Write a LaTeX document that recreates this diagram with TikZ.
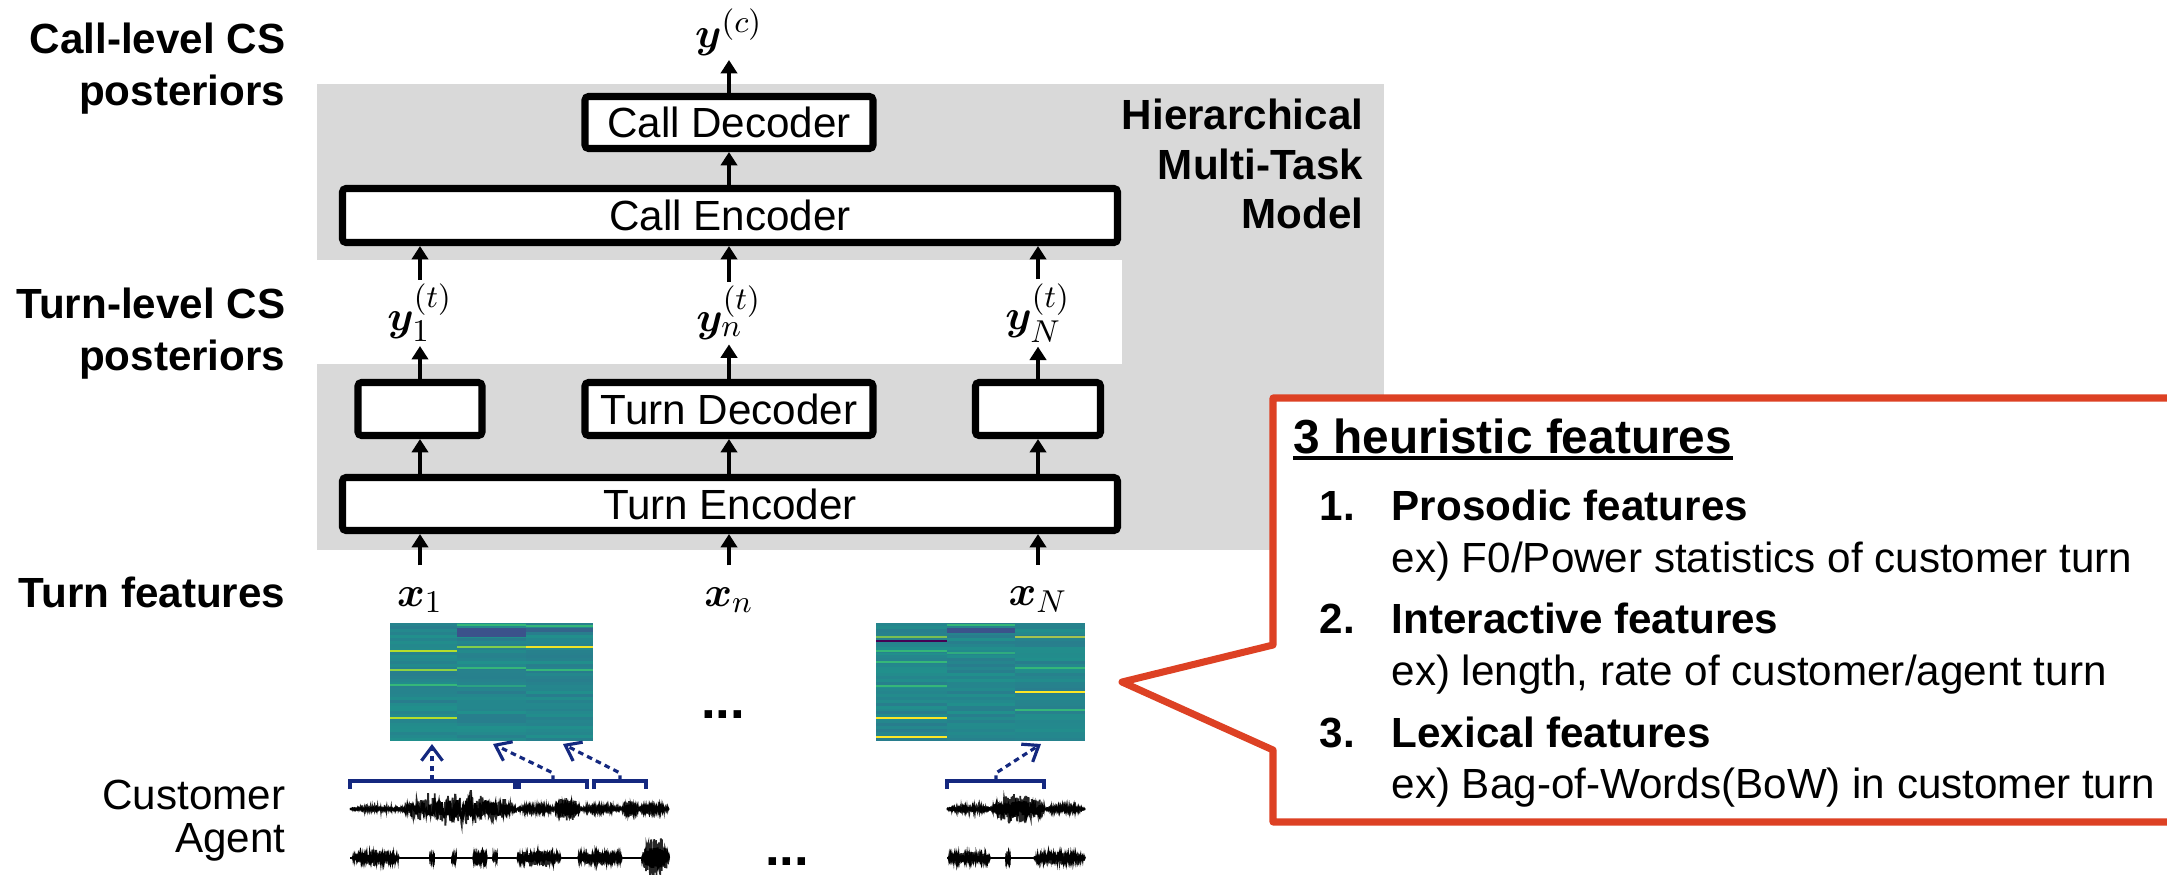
\documentclass[tikz,border=0pt]{standalone}
\usepackage{fontspec}
\setmainfont{Liberation Sans}
\usepackage{bm}
\usetikzlibrary{positioning,arrows.meta}
\definecolor{banda}{HTML}{D9D9D9}
\definecolor{rojo}{HTML}{DD4124}
\definecolor{marino}{HTML}{14287F}
\definecolor{vteal}{HTML}{21908C}
\definecolor{vblue}{HTML}{2E6E8E}
\definecolor{vdeep}{HTML}{3B528B}
\definecolor{vgreen}{HTML}{35B779}
\definecolor{vlime}{HTML}{B5DE2B}
\definecolor{vyel}{HTML}{FDE725}
\definecolor{vpurp}{HTML}{440154}

% one column of a feature map: x0, x1, seed
\newcommand{\columna}[3]{%
  \pgfmathsetseed{#3}
  \foreach \r in {0,...,39}{
    \pgfmathtruncatemacro\mz{rnd*60}
    \fill[vblue!\mz!vteal] (#1,{-6.23-\r*0.0295}) rectangle (#2,{-6.23-(\r+1)*0.0295});
  }}
% bright rows on top: x0, x1, list of depth/colour
\newcommand{\franjas}[3]{%
  \foreach \yy/\cc in {#3} \fill[\cc] (#1,{-\yy+0.012}) rectangle (#2,{-\yy-0.012});}
% speech burst: y0, start, end, amplitude
\newcommand{\onda}[4]{%
  \draw[line width=0.5pt,black!85] plot[domain=#2:#3,samples=260] (\x,{#1+#4*rand*(0.35+0.65*rnd)*sqrt(abs(sin(180*(\x-#2)/(#3-#2))))});
  \draw[line width=0.6pt] plot[domain=#2:#3,samples=200] (\x,{#1+0.45*#4*rand*sqrt(abs(sin(180*(\x-#2)/(#3-#2))))});}

\begin{document}
\begin{tikzpicture}[
    bloque/.style={draw,line width=2pt,fill=white,rounded corners=1pt,minimum height=0.53cm,inner sep=0pt,font=\fontsize{12}{14}\selectfont},
    flecha/.style={-{Triangle[length=3.8pt,width=4.6pt]},line width=1pt},
    etiq/.style={font=\fontsize{12}{14.8}\selectfont\bfseries,align=right,anchor=east,inner sep=0pt},
    simbolo/.style={font=\fontsize{13}{15}\selectfont,inner sep=1pt},
    rayas/.style={dash pattern=on 1.6pt off 1.2pt,line width=0.9pt,marino,-{Straight Barb[length=4pt,width=6pt]}},
    llave/.style={marino,line width=0.9pt},
    lista/.style={anchor=base west,inner sep=0pt,font=\fontsize{12}{14}\selectfont}]
  \useasboundingbox (0,0) rectangle (21.67,-8.74);

  % grey model area
  \fill[banda] (3.17,-0.84) rectangle (13.84,-2.60);
  \fill[banda] (11.22,-2.60) rectangle (13.84,-3.64);
  \fill[banda] (3.17,-3.64) rectangle (13.84,-5.50);

  % callout
  \draw[rojo,fill=white,line width=2pt,line join=round] (22.2,-3.98) -- (12.73,-3.98) -- (12.73,-6.45) -- (11.22,-6.82)
    -- (12.73,-7.50) -- (12.73,-8.22) -- (22.2,-8.22) -- cycle;

  % left labels
  \node[etiq] (lcall) at (2.86,-0.69) {Call-level CS\\posteriors};
  \node[etiq] (lturn) at (2.86,-3.34) {Turn-level CS\\posteriors};
  \node[etiq] (lfeat) at (2.86,-5.92) {Turn features};
  \node[etiq,font=\fontsize{12}{14}\selectfont] (lcust) at (2.86,-7.95) {Customer};
  \node[etiq,font=\fontsize{12}{14}\selectfont] (lagent) at (2.86,-8.42) {Agent};
  \node[etiq,font=\fontsize{12}{14.2}\selectfont\bfseries] (lmodel) at (13.64,-1.64) {Hierarchical\\Multi-Task\\Model};

  % model blocks
  \node[bloque,minimum width=2.88cm,minimum height=0.52cm] (calldec) at (7.29,-1.225) {Call Decoder};
  \node[bloque,minimum width=7.75cm,minimum height=0.54cm] (callenc) at (7.30,-2.155) {Call Encoder};
  \node[bloque,minimum width=1.24cm] (tdec1) at (4.20,-4.09) {};
  \node[bloque,minimum width=2.88cm] (tdecn) at (7.29,-4.09) {Turn Decoder};
  \node[bloque,minimum width=1.25cm] (tdecN) at (10.38,-4.09) {};
  \node[bloque,minimum width=7.75cm] (turnenc) at (7.30,-5.04) {Turn Encoder};

  % outputs and inputs
  \node[simbolo,anchor=south] (yc) at (7.29,-0.60) {$\bm{y}^{(c)}$};
  \node[simbolo] (yt1) at (4.20,-3.13) {$\bm{y}_1^{(t)}$};
  \node[simbolo] (ytn) at (7.29,-3.13) {$\bm{y}_n^{(t)}$};
  \node[simbolo] (ytN) at (10.38,-3.13) {$\bm{y}_N^{(t)}$};
  \node[simbolo] (x1) at (4.20,-6.00) {$\bm{x}_1$};
  \node[simbolo] (xn) at (7.29,-6.00) {$\bm{x}_n$};
  \node[simbolo] (xN) at (10.38,-6.00) {$\bm{x}_N$};

  \draw[flecha] (calldec) -- (yc);
  \draw[flecha] (callenc.north -| calldec) -- (calldec);
  \foreach \c/\t in {1/tdec1,n/tdecn,N/tdecN}{
    \draw[flecha] (\t) -- (yt\c);
    \draw[flecha] (yt\c) -- (callenc.south -| yt\c);
    \draw[flecha] (turnenc.north -| \t) -- (\t);
    \draw[flecha] ([yshift=0.18cm]x\c.north) -- (turnenc.south -| x\c);
  }

  % feature maps
  \columna{3.90}{4.57}{11}
  \columna{4.57}{5.26}{23}
  \columna{5.26}{5.93}{37}
  \fill[vdeep] (4.57,-6.28) rectangle (5.26,-6.37);
  \fill[vdeep!70!vteal] (5.26,-6.28) rectangle (5.93,-6.32);
  \franjas{3.90}{4.57}{6.51/vlime,6.70/vlime!70!vgreen,6.85/vgreen,7.18/vlime}
  \franjas{4.57}{5.26}{6.25/vgreen,6.47/vlime!60!vgreen,6.68/vgreen,6.86/vgreen!50!vteal}
  \franjas{5.26}{5.93}{6.26/vgreen,6.47/vyel!80!vlime,6.70/vgreen}
  \columna{8.76}{9.47}{41}
  \columna{9.47}{10.15}{53}
  \columna{10.15}{10.85}{67}
  \fill[vdeep] (9.47,-6.28) rectangle (10.15,-6.33);
  \franjas{8.76}{9.47}{6.37/vlime!60!vteal,6.41/vpurp,6.51/vgreen,6.62/vgreen,6.86/vgreen,7.18/vyel,7.37/vyel}
  \franjas{9.47}{10.15}{6.25/vgreen,6.53/vgreen!70!vteal}
  \franjas{10.15}{10.85}{6.37/vyel!60!vteal,6.68/vgreen,6.92/vyel,7.10/vgreen}

  \node[font=\fontsize{15}{17}\selectfont\bfseries,anchor=base,inner sep=0pt] (dots1) at (7.23,-7.18) {...};
  \node[font=\fontsize{15}{17}\selectfont\bfseries,anchor=base,inner sep=0pt] (dots2) at (7.87,-8.65) {...};

  % waveforms
  \pgfmathsetseed{7}
  \draw[line width=0.8pt] (3.50,-8.09) -- (6.69,-8.09);
  \draw[line width=0.8pt] (9.47,-8.09) -- (10.85,-8.09);
  \draw[line width=0.8pt] (3.50,-8.58) -- (6.69,-8.58);
  \draw[line width=0.8pt] (9.47,-8.58) -- (10.85,-8.58);
  \onda{-8.09}{3.50}{4.10}{0.02}
  \onda{-8.09}{4.02}{5.17}{0.20}
  \onda{-8.09}{5.17}{5.55}{0.02}
  \onda{-8.09}{5.55}{5.80}{0.14}
  \onda{-8.09}{5.80}{6.22}{0.02}
  \onda{-8.09}{6.22}{6.38}{0.11}
  \onda{-8.09}{6.38}{6.69}{0.02}
  \onda{-8.09}{9.47}{9.94}{0.02}
  \onda{-8.09}{9.92}{10.45}{0.18}
  \onda{-8.09}{10.45}{10.85}{0.02}
  \onda{-8.58}{3.52}{3.99}{0.09}
  \onda{-8.58}{4.30}{4.34}{0.04}
  \onda{-8.58}{4.52}{4.56}{0.04}
  \onda{-8.58}{4.73}{4.87}{0.03}
  \onda{-8.58}{4.93}{4.97}{0.04}
  \onda{-8.58}{5.17}{5.61}{0.10}
  \onda{-8.58}{5.78}{6.22}{0.09}
  \onda{-8.58}{6.42}{6.69}{0.24}
  \onda{-8.58}{9.48}{9.90}{0.07}
  \onda{-8.58}{10.06}{10.10}{0.03}
  \onda{-8.58}{10.34}{10.85}{0.07}

  % turn segments
  \foreach \a/\b in {3.50/5.15,5.19/5.87,5.94/6.46,9.47/10.44}
    \draw[llave] (\a,-7.89) -- (\a,-7.81) -- (\b,-7.81) -- (\b,-7.89);
  \coordinate (seg1) at (4.32,-7.81);
  \coordinate (seg2) at (5.53,-7.81);
  \coordinate (seg3) at (6.20,-7.81);
  \coordinate (segN) at (9.96,-7.81);
  \coordinate (map1) at (4.32,-7.44);
  \coordinate (map2) at (4.93,-7.44);
  \coordinate (map3) at (5.63,-7.44);
  \coordinate (mapN) at (10.41,-7.44);
  \draw[rayas] (seg1) -- (map1);
  \draw[rayas] (seg2) -- ++(0,0.08) -- (map2);
  \draw[rayas] (seg3) -- ++(0,0.08) -- (map3);
  \draw[rayas] (segN) -- ++(0,0.08) -- (mapN);

  % callout text
  \node[lista,font=\fontsize{13.6}{16}\selectfont\bfseries] (ttl) at (12.93,-4.53) {3 heuristic features};
  \draw[line width=0.9pt] ([yshift=-0.05cm]ttl.base west) -- ([yshift=-0.05cm]ttl.base east);
  \node[lista,font=\fontsize{12}{14}\selectfont\bfseries] (n1) at (13.19,-5.20) {1.};
  \node[lista,font=\fontsize{12}{14}\selectfont\bfseries] (itm1) at (13.91,-5.20) {Prosodic features};
  \node[lista] (ex1) at (13.91,-5.72) {ex) F0/Power statistics of customer turn};
  \node[lista,font=\fontsize{12}{14}\selectfont\bfseries] (n2) at (13.19,-6.33) {2.};
  \node[lista,font=\fontsize{12}{14}\selectfont\bfseries] (itm2) at (13.91,-6.33) {Interactive features};
  \node[lista] (ex2) at (13.91,-6.85) {ex) length, rate of customer/agent turn};
  \node[lista,font=\fontsize{12}{14}\selectfont\bfseries] (n3) at (13.19,-7.47) {3.};
  \node[lista,font=\fontsize{12}{14}\selectfont\bfseries] (itm3) at (13.91,-7.47) {Lexical features};
  \node[lista] (ex3) at (13.91,-7.98) {ex) Bag-of-Words(BoW) in customer turn};
\end{tikzpicture}
\end{document}
